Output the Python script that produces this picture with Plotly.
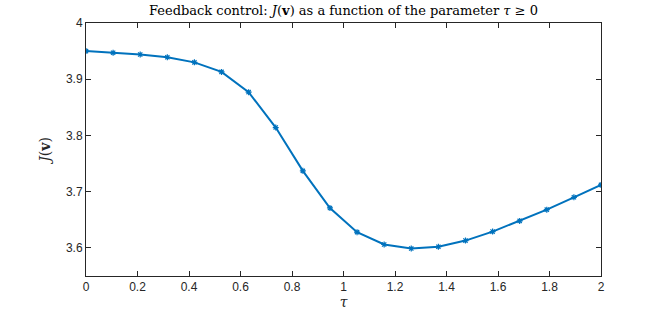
import plotly.graph_objects as go

tau = [0.0, 0.10526, 0.21053, 0.31579, 0.42105, 0.52632, 0.63158, 0.73684, 0.84211, 0.94737,
       1.05263, 1.15789, 1.26316, 1.36842, 1.47368, 1.57895, 1.68421, 1.78947, 1.89474, 2.0]
J = [3.950, 3.947, 3.944, 3.939, 3.930, 3.913, 3.877, 3.814, 3.737, 3.671,
     3.628, 3.606, 3.599, 3.602, 3.613, 3.629, 3.648, 3.668, 3.690, 3.712]
x_ticks = [0, 0.2, 0.4, 0.6, 0.8, 1, 1.2, 1.4, 1.6, 1.8, 2]
x_tick_labels = ["0", "0.2", "0.4", "0.6", "0.8", "1", "1.2", "1.4", "1.6", "1.8", "2"]
y_ticks = [3.6, 3.7, 3.8, 3.9, 4.0]
y_tick_labels = ["3.6", "3.7", "3.8", "3.9", "4"]

blue = "#0072BD"
axc = "#262626"

fig = go.Figure()
fig.add_trace(go.Scatter(
    x=tau, y=J, mode="lines+markers",
    line=dict(color=blue, width=2),
    marker=dict(symbol="asterisk-open", size=5, color=blue, line=dict(color=blue, width=1.2)),
    showlegend=False, hoverinfo="skip"))

axis_common = dict(showgrid=False, zeroline=False, showline=True, linecolor=axc, linewidth=1,
                   mirror="ticks", ticks="inside", ticklen=5, tickcolor=axc, tickwidth=1,
                   automargin=False,
                   tickfont=dict(family="Liberation Sans, Arial, sans-serif", size=12, color=axc))

fig.update_layout(
    width=664, height=315,
    margin=dict(l=86, r=63, t=23, b=39),
    paper_bgcolor="white", plot_bgcolor="white",
    title=dict(text="Feedback control: <i>J</i>(<b>v</b>) as a function of the parameter <i>τ</i> ≥ 0",
               x=(86 + 601) / 2 / 664, xanchor="center", y=1 - 10 / 315, yanchor="middle",
               font=dict(family="DejaVu Serif, serif", size=13, color="black")),
    xaxis=dict(range=[0, 2], tickvals=x_ticks, ticktext=x_tick_labels,
               title=dict(text="<i>τ</i>", standoff=0,
                          font=dict(family="DejaVu Serif, serif", size=14, color=axc)),
               **axis_common),
    yaxis=dict(range=[3.55, 4.0], tickvals=y_ticks, ticktext=y_tick_labels,
               title=dict(text="<i>J</i>(<b>v</b>)", standoff=12,
                          font=dict(family="DejaVu Serif, serif", size=14, color=axc)),
               **axis_common),
)

fig.write_html("out.html",
               config={"displayModeBar": False, "staticPlot": True},
               post_script="document.body.style.margin='0';document.body.style.overflow='hidden';")
